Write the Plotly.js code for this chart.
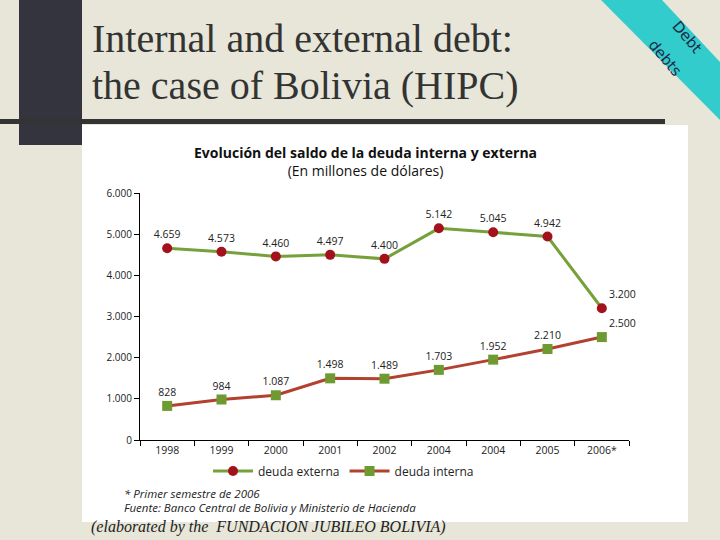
<!DOCTYPE html>
<html>
<head>
<meta charset="utf-8">
<script src="https://cdn.plot.ly/plotly-3.0.1.min.js"></script>
<style>
  html, body { margin: 0; padding: 0; background: #e7e6d8; }
  #chart { width: 720px; height: 540px; }
</style>
</head>
<body>
<div id="chart"></div>
<script>
// Saldo de la deuda (millones de USD)
const years = ['1998', '1999', '2000', '2001', '2002', '2004', '2004', '2005', '2006*'];
const deudaExterna = [4659, 4573, 4460, 4497, 4400, 5142, 5045, 4942, 3200];
const deudaInterna = [828, 984, 1087, 1498, 1489, 1703, 1952, 2210, 2500];
const yTicks = [0, 1000, 2000, 3000, 4000, 5000, 6000];

const W = 720, H = 540;
const px = x => x / W;          // pixel -> paper (whole figure, margins are 0)
const py = y => 1 - y / H;

const idx = years.map((_, i) => i);   // '2004' appears twice, so plot by index

const chartFont = 'Open Sans, Noto Sans, sans-serif';
const labelPos = ['top center', 'top center', 'top center', 'top center', 'top center',
                  'top center', 'top center', 'top center', 'top right'];

const traces = [
    {
        x: idx,
        y: deudaExterna,
        mode: 'lines+markers+text',
        name: 'deuda externa',
        line: { color: '#76a03a', width: 3 },
        marker: { color: '#a3121c', size: 10, symbol: 'circle' },
        texttemplate: '%{y:,}',
        textposition: labelPos,
        textfont: { family: chartFont, size: 10.5, color: '#222' },
        cliponaxis: false,
        hoverinfo: 'skip'
    },
    {
        x: idx,
        y: deudaInterna,
        mode: 'lines+markers+text',
        name: 'deuda interna',
        line: { color: '#b3412f', width: 3 },
        marker: { color: '#6e9a32', size: 10, symbol: 'square' },
        texttemplate: '%{y:,}',
        textposition: labelPos,
        textfont: { family: chartFont, size: 10.5, color: '#222' },
        cliponaxis: false,
        hoverinfo: 'skip'
    }
];

// helper for free text placed on the slide
function note(text, x, y, size, family, extra) {
    return Object.assign({
        text: text, xref: 'paper', yref: 'paper',
        x: px(x), y: py(y), xanchor: 'left', yanchor: 'middle', showarrow: false,
        font: { family: family, size: size, color: '#222' }
    }, extra || {});
}

const layout = {
    width: W,
    height: H,
    margin: { l: 0, r: 0, t: 0, b: 0 },
    paper_bgcolor: '#e7e6d8',
    plot_bgcolor: 'rgba(0,0,0,0)',
    separators: ',.',
    showlegend: true,
    font: { family: chartFont, color: '#222' },
    xaxis: {
        domain: [px(140), px(629)],
        range: [-0.5, 8.5],
        tickvals: idx,
        ticktext: years,
        ticks: '',
        showgrid: false,
        zeroline: false,
        showline: true,
        linecolor: '#000',
        linewidth: 1,
        tickfont: { family: chartFont, size: 10.5, color: '#222' },
        minor: { ticks: 'outside', ticklen: 5, tick0: -0.5, dtick: 1, tickcolor: '#000' },
        automargin: false,
        fixedrange: true
    },
    yaxis: {
        domain: [py(440), py(193)],
        range: [0, 6000],
        tickvals: yTicks,
        tickformat: ',d',
        ticks: 'outside',
        ticklen: 5,
        tickcolor: '#000',
        showgrid: false,
        zeroline: false,
        showline: true,
        linecolor: '#000',
        linewidth: 1,
        tickfont: { family: chartFont, size: 10, color: '#222' },
        automargin: false,
        fixedrange: true
    },
    legend: {
        orientation: 'h',
        x: px(208),
        xanchor: 'left',
        y: py(471),
        yanchor: 'middle',
        font: { family: chartFont, size: 12, color: '#222' },
        bgcolor: 'rgba(0,0,0,0)',
        itemwidth: 40,
        tracegroupgap: 0
    },
    shapes: [
        // white panel holding the chart image
        { type: 'rect', xref: 'paper', yref: 'paper', layer: 'below',
          x0: px(82), x1: px(688), y0: py(522), y1: py(125),
          fillcolor: '#ffffff', line: { width: 0 } },
        // dark vertical bar
        { type: 'rect', xref: 'paper', yref: 'paper', layer: 'below',
          x0: px(19), x1: px(82), y0: py(145), y1: py(0),
          fillcolor: '#34343f', line: { width: 0 } },
        // dark horizontal rule
        { type: 'rect', xref: 'paper', yref: 'paper', layer: 'below',
          x0: px(0), x1: px(665), y0: py(124), y1: py(119),
          fillcolor: '#333333', line: { width: 0 } },
        // teal corner ribbon
        { type: 'path', xref: 'paper', yref: 'paper', layer: 'below',
          path: `M ${px(601)} ${py(0)} L ${px(662)} ${py(0)} L ${px(720)} ${py(62)} L ${px(720)} ${py(120)} Z`,
          fillcolor: '#33cccc', line: { width: 0 } }
    ],
    annotations: [
        note('Internal and external debt:', 90, 39, 40, 'Liberation Serif, serif', { font: { family: 'Liberation Serif, serif', size: 40, color: '#333' } }),
        note('the case of Bolivia (HIPC)', 90, 86, 40, 'Liberation Serif, serif', { font: { family: 'Liberation Serif, serif', size: 40, color: '#333' } }),
        note('Debt', 687, 37, 15, 'DejaVu Sans, sans-serif', { xanchor: 'center', textangle: 50, font: { family: 'DejaVu Sans, sans-serif', size: 15, color: '#1b2a48' } }),
        note('debts', 665, 58, 15, 'DejaVu Sans, sans-serif', { xanchor: 'center', textangle: 50, font: { family: 'DejaVu Sans, sans-serif', size: 15, color: '#1b2a48' } }),
        note('<b>Evolución del saldo de la deuda interna y externa</b><br>(En millones de dólares)', 365, 161, 14, chartFont,
             { xanchor: 'center', align: 'center', font: { family: chartFont, size: 14, color: '#111' } }),
        note('<i>* Primer semestre de 2006</i>', 122, 493, 11.5, chartFont),
        note('<i>Fuente: Banco Central de Bolivia y Ministerio de Hacienda</i>', 122, 507, 11.5, chartFont),
        note('<i>(elaborated by the  FUNDACION JUBILEO BOLIVIA)</i>', 89, 527, 16, 'Liberation Serif, serif')
    ]
};

const config = { staticPlot: true, displayModeBar: false };

Plotly.newPlot('chart', traces, layout, config);
</script>
</body>
</html>
